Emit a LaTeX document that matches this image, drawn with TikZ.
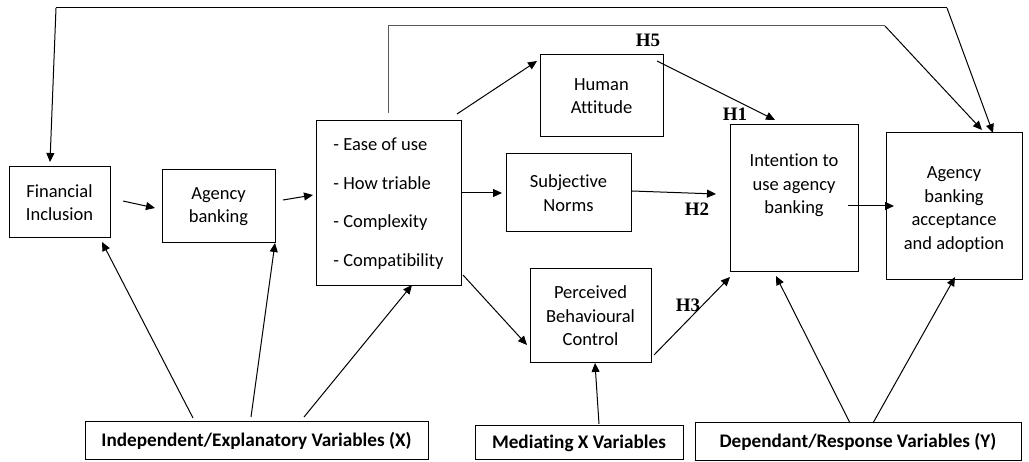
\documentclass[tikz,border=0pt]{standalone}
\usepackage{fontspec}
\setmainfont{Carlito}[RawFeature={-liga,-clig,-calt,-dlig}]
\newfontfamily\hfont{Liberation Serif}
\usetikzlibrary{arrows.meta}
\begin{document}
\begin{tikzpicture}[x=1pt,y=-1pt,
  box/.style={draw,line width=1pt,inner sep=0pt,align=center,
    font=\fontsize{18.5}{23.5}\selectfont},
  lbl/.style={draw,line width=1pt,inner sep=0pt,
    font=\fontsize{19.2}{22}\selectfont\bfseries},
  arr/.style={line width=1pt,-{Triangle[length=9pt,width=8pt]}},
  hyp/.style={font=\fontsize{19}{22}\selectfont\hfont\bfseries,inner sep=0pt}]
\useasboundingbox (0,0) rectangle (1029,462);
% boxes
\node[box,minimum width=101pt,minimum height=71pt] (fi) at (59.5,202.5) {Financial\\Inclusion};
\node[box,minimum width=113pt,minimum height=73pt] (ab) at (218.5,206.5) {Agency\\banking};
\node[box,minimum width=145pt,minimum height=165pt,align=left,
  font=\fontsize{18.5}{38.5}\selectfont] (ease) at (388.5,203.5)
  {- Ease of use\\- How triable\\- Complexity\\- Compatibility};
\node[box,minimum width=123pt,minimum height=82pt] (ha) at (601.5,96) {Human\\Attitude};
\node[box,minimum width=125pt,minimum height=78pt] (sn) at (568.5,193) {Subjective\\Norms};
\node[box,minimum width=128pt,minimum height=147pt] (int) at (794,198.5) {Intention to\\use agency\\banking\\[6pt]};
\node[box,minimum width=136pt,minimum height=147pt] (acc) at (954,206.5) {\\[-6pt]Agency\\banking\\acceptance\\and adoption};
\node[box,minimum width=121pt,minimum height=94pt] (pbc) at (590.5,316) {Perceived\\Behavioural\\Control};
\node[lbl,minimum width=343pt,minimum height=38pt] (ind) at (256.5,441) {Independent/Explanatory Variables (X)};
\node[lbl,minimum width=208pt,minimum height=34pt] (med) at (579,443) {Mediating X Variables};
\node[lbl,minimum width=326pt,minimum height=38pt] (dep) at (858,442) {Dependant/Response Variables (Y)};
% hypothesis labels
\node[hyp] (h5) at (648,40) {H5};
\node[hyp] (h1) at (735,114) {H1};
\node[hyp] (h2) at (697,209) {H2};
\node[hyp] (h3) at (688,305) {H3};
% connector end points
\coordinate (t1a) at (947,8);
\coordinate (t1b) at (56,8);
\coordinate (t1in) at (50,162);
\coordinate (t1out) at (993,133);
\coordinate (t2s) at (388,113);
\coordinate (t2a) at (388,26);
\coordinate (t2b) at (885,26);
\coordinate (t2out) at (982,130);
\coordinate (fiout) at (123,201);
\coordinate (abin) at (155,208);
\coordinate (about) at (283,200);
\coordinate (easein) at (313,195);
\coordinate (easeha) at (457,114);
\coordinate (hain) at (537,61);
\coordinate (easesn) at (461,193);
\coordinate (snin) at (502,193);
\coordinate (easepbc) at (463,275);
\coordinate (pbcin) at (527,345);
\coordinate (haout) at (657,61);
\coordinate (intha) at (775,120);
\coordinate (snout) at (632,191);
\coordinate (intsn) at (716,194);
\coordinate (pbcout) at (654,355);
\coordinate (intpbc) at (730,277);
\coordinate (intout) at (848,206);
\coordinate (accin) at (894,206);
\coordinate (indfi) at (193,418);
\coordinate (fiin) at (102,242);
\coordinate (indab) at (251,417);
\coordinate (abin2) at (275,243);
\coordinate (indease) at (304,417);
\coordinate (easein2) at (412,285);
\coordinate (medout) at (599,424);
\coordinate (pbcin2) at (595,363);
\coordinate (depint) at (850,423);
\coordinate (intin2) at (776,276);
\coordinate (depacc) at (873,423);
\coordinate (accin2) at (955,277);
% connectors
\draw[arr] (t1b) -- (t1in);
\draw[line width=1pt] (t1b) -- (t1a);
\draw[arr] (t1a) -- (t1out);
\draw[line width=1pt,black!65] (t2s) -- (t2a) -- (t2b);
\draw[arr] (t2b) -- (t2out);
\draw[arr] (fiout) -- (abin);
\draw[arr] (about) -- (easein);
\draw[arr] (easeha) -- (hain);
\draw[arr] (easesn) -- (snin);
\draw[arr] (easepbc) -- (pbcin);
\draw[arr] (haout) -- (intha);
\draw[arr] (snout) -- (intsn);
\draw[arr] (pbcout) -- (intpbc);
\draw[arr] (intout) -- (accin);
\draw[arr] (indfi) -- (fiin);
\draw[arr] (indab) -- (abin2);
\draw[arr] (indease) -- (easein2);
\draw[arr] (medout) -- (pbcin2);
\draw[arr] (depint) -- (intin2);
\draw[arr] (depacc) -- (accin2);
\end{tikzpicture}
\end{document}
